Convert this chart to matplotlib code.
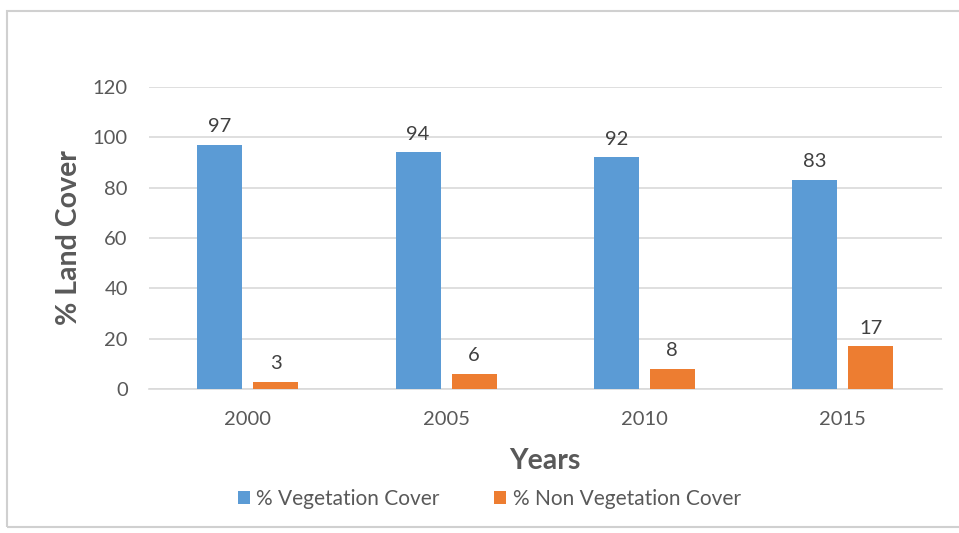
import numpy as np
import matplotlib.pyplot as plt
from matplotlib.patches import Rectangle

years = ["2000", "2005", "2010", "2015"]
vegetation = [97, 94, 92, 83]
non_vegetation = [3, 6, 8, 17]

plt.rcParams['font.family'] = ['Lato', 'DejaVu Sans']
grey = "#595959"

fig = plt.figure(figsize=(9.59, 5.33), dpi=100)
ax = fig.add_axes([0.155, 0.270, 0.827, 0.567])

x = np.arange(len(years))
w = 0.227
off = 0.141
b1 = ax.bar(x - off, vegetation, w, color="#5B9BD5", label="% Vegetation Cover", zorder=3)
b2 = ax.bar(x + off, non_vegetation, w, color="#ED7D31", label="% Non Vegetation Cover", zorder=3)
ax.bar_label(b1, padding=7, fontsize=14.5, color="#404040")
ax.bar_label(b2, padding=7, fontsize=14.5, color="#404040")

ax.set_xlim(-0.5, 3.5)
ax.set_ylim(0, 120)
ax.set_yticks(range(0, 121, 20))
ax.set_xticks(x)
ax.set_xticklabels(years)
ax.tick_params(axis='both', length=0, labelsize=14.5, labelcolor=grey)
ax.tick_params(axis='y', pad=15)
ax.tick_params(axis='x', pad=16)
ax.grid(axis='y', color="#D9D9D9", linewidth=1.2, zorder=0)
for s in ["top", "right", "left"]:
    ax.spines[s].set_visible(False)
ax.spines["bottom"].set_color("#D9D9D9")
ax.spines["bottom"].set_linewidth(1.2)

ax.set_ylabel("% Land Cover", fontsize=20.5, fontweight='bold', color=grey, labelpad=8)
ax.set_xlabel("Years", fontsize=20.5, fontweight='bold', color=grey, labelpad=14)

fig.legend(loc='center', bbox_to_anchor=(0.51, 0.064), ncol=2, frameon=False,
           fontsize=15, labelcolor=grey, handlelength=0.6, handleheight=0.6,
           handletextpad=0.3, columnspacing=2.6)

# outer chart frame
fig.patches.append(Rectangle((0.007, 0.012), 1.0, 0.968, transform=fig.transFigure,
                             fill=False, edgecolor="#D0D0D0", linewidth=1.5))
# cut-off caption above the chart
fig.text(0.364, 1.012, "g", fontsize=15, fontweight='bold', family='DejaVu Serif',
         ha='center', va='baseline', color="black")

fig.savefig("out.png", dpi=100, facecolor="white")
